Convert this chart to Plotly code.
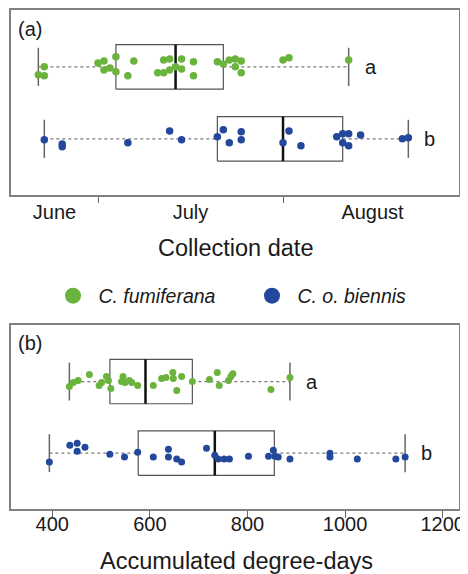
import plotly.graph_objects as go

FONT = "Arial, 'Liberation Sans', sans-serif"
GREEN = "#6ab43e"
BLUE = "#23489b"

species = ["C. fumiferana", "C. o. biennis"]
row_pos = [1, 0]
group_letters_date = ["a", "b"]
group_letters_dd = ["a", "b"]

# Panel (a): collection date (day of year)
fum_date = [172, 173, 173, 182, 183, 183, 184, 185, 185, 187, 188, 192, 193, 193, 194, 194, 195, 196, 196, 198,
            198, 202, 203, 204, 205, 205, 206, 206, 213, 214, 224]
fum_date_jit = [-0.11, 0, -0.125, 0.055, 0.083, -0.042, -0.014, 0.139, -0.069, -0.125, 0.083, -0.083, 0.097, -0.083,
                0.11, -0.042, 0, 0.11, -0.028, 0.07, -0.125, 0.07, 0.04, 0.097, 0.11, 0, 0.083, -0.083, 0.097, 0.125,
                0.097]
bie_date = [173, 176, 176, 187, 194, 196, 202, 203, 204, 206, 206, 213, 214, 216, 222, 223, 223, 224, 224, 226, 233, 234]
bie_date_jit = [-0.014, -0.07, -0.11, -0.055, 0.11, -0.014, 0.028, 0.125, -0.055, 0.097, -0.014, -0.055, 0.11, -0.097,
                0.028, 0.07, -0.055, 0.07, -0.097, 0.055, 0, 0.014]
# box stats: min, q1, median, q3, max
fum_date_box = [172, 185, 195, 203, 224]
bie_date_box = [173, 202, 213, 223, 234]
month_bounds = [182, 213]
month_labels = ["June", "July", "August"]
month_label_pos = [174.7, 197.5, 228.0]

# Panel (b): accumulated degree-days
fum_dd = [435, 443, 453, 476, 496, 501, 511, 515, 520, 542, 545, 549, 558, 563, 575, 607, 624, 633, 647, 648,
          655, 665, 687, 722, 738, 742, 761, 766, 770, 848, 887]
fum_dd_jit = [-0.07, -0.014, 0.014, 0.097, -0.055, -0.014, 0.07, 0.014, -0.097, 0, 0.07, -0.014, 0.014, -0.014,
              -0.055, -0.055, 0.042, 0.055, 0.125, 0.042, -0.125, 0.07, 0, 0.028, 0.125, -0.055, 0.014, 0.07, 0.11,
              -0.11, 0.055]
bie_dd = [394, 436, 451, 451, 467, 518, 548, 575, 607, 638, 638, 655, 665, 716, 733, 740, 752, 763, 802, 843,
          853, 856, 863, 887, 969, 969, 1025, 1104, 1123]
bie_dd_jit = [-0.125, 0.11, 0.14, 0.028, 0.083, -0.014, -0.055, 0.014, -0.055, 0.055, -0.055, -0.083, -0.125, 0.07,
              -0.028, -0.083, -0.083, -0.083, -0.042, -0.042, 0.042, -0.042, -0.055, -0.083, 0, -0.055, -0.083,
              -0.083, -0.055]
fum_dd_box = [435, 518, 591, 687, 887]
bie_dd_box = [394, 576, 733, 855, 1123]
dd_ticks = [400, 600, 800, 1000, 1200]

BOX_H = 0.31
STAPLE_H = 0.265

# page layout helpers (the page body adds an 8px offset)
W, H, OFF = 468, 574, 8


def px_x(px):
    return (px - OFF) / W


def px_y(py):
    return (H - (py - OFF)) / H


fig = go.Figure()


def add_box(stats, yc, xa, ya):
    mn, q1, med, q3, mx = stats
    fig.add_trace(go.Scatter(x=[mn, q1, None, q3, mx], y=[yc, yc, None, yc, yc], mode="lines",
                             line=dict(color="#7a7a7a", width=1.2, dash="dot"), xaxis=xa, yaxis=ya,
                             showlegend=False, hoverinfo="skip"))
    fig.add_trace(go.Scatter(x=[mn, mn, None, mx, mx],
                             y=[yc - STAPLE_H, yc + STAPLE_H, None, yc - STAPLE_H, yc + STAPLE_H], mode="lines",
                             line=dict(color="#666666", width=1.5), xaxis=xa, yaxis=ya,
                             showlegend=False, hoverinfo="skip"))
    fig.add_trace(go.Scatter(x=[q1, q3, q3, q1, q1],
                             y=[yc - BOX_H, yc - BOX_H, yc + BOX_H, yc + BOX_H, yc - BOX_H], mode="lines",
                             line=dict(color="#555555", width=1.2), xaxis=xa, yaxis=ya,
                             showlegend=False, hoverinfo="skip"))
    fig.add_trace(go.Scatter(x=[med, med], y=[yc - BOX_H, yc + BOX_H], mode="lines",
                             line=dict(color="#111111", width=2.5), xaxis=xa, yaxis=ya,
                             showlegend=False, hoverinfo="skip"))


def add_points(xs, jit, yc, color, size, xa, ya):
    fig.add_trace(go.Scatter(x=xs, y=[yc + j for j in jit], mode="markers",
                             marker=dict(color=color, size=size, line=dict(width=0)),
                             xaxis=xa, yaxis=ya, showlegend=False))


add_box(fum_date_box, row_pos[0], "x", "y")
add_box(bie_date_box, row_pos[1], "x", "y")
add_points(fum_date, fum_date_jit, row_pos[0], GREEN, 7.5, "x", "y")
add_points(bie_date, bie_date_jit, row_pos[1], BLUE, 7.5, "x", "y")

add_box(fum_dd_box, row_pos[0], "x2", "y2")
add_box(bie_dd_box, row_pos[1], "x2", "y2")
add_points(fum_dd, fum_dd_jit, row_pos[0], GREEN, 7, "x2", "y2")
add_points(bie_dd, bie_dd_jit, row_pos[1], BLUE, 7, "x2", "y2")

# legend entries
for name, color in zip(species, [GREEN, BLUE]):
    fig.add_trace(go.Scatter(x=[None], y=[None], mode="markers", name="&nbsp;<i>" + name + "</i>",
                             marker=dict(color=color, size=16), xaxis="x", yaxis="y"))

X_DOMAIN = [px_x(11), px_x(459)]
Y_RANGE = [-0.78, 1.79]
frame = dict(showline=True, linecolor="#808080", linewidth=1.5, mirror=True, showgrid=False, zeroline=False,
             automargin=False)

fig.update_layout(
    template="none",
    width=W, height=H, margin=dict(l=0, r=0, t=0, b=0, autoexpand=False),
    paper_bgcolor="white", plot_bgcolor="white",
    font=dict(family=FONT, color="#1a1a1a", size=20),
    xaxis=dict(domain=X_DOMAIN, anchor="y", range=[167.42, 242.49], **frame,
               tickmode="array", tickvals=month_label_pos, ticktext=month_labels, ticks="",
               ticklabelstandoff=-2, tickfont=dict(size=20),
               minor=dict(tickmode="array", tickvals=month_bounds, ticks="outside", ticklen=6,
                          tickwidth=1, tickcolor="#666666")),
    yaxis=dict(domain=[px_y(195), px_y(10)], anchor="x", range=Y_RANGE, **frame,
               showticklabels=False, ticks=""),
    xaxis2=dict(domain=X_DOMAIN, anchor="y2", range=[315.4, 1233.4], **frame,
                tickmode="array", tickvals=dd_ticks, ticks="outside", ticklen=7, tickwidth=1,
                tickcolor="#666666", tickfont=dict(size=20), ticklabelstandoff=-11),
    yaxis2=dict(domain=[px_y(509), px_y(325)], anchor="x2", range=Y_RANGE, **frame,
                showticklabels=False, ticks=""),
    legend=dict(orientation="h", x=px_x(73 - 20 + OFF - OFF) , xanchor="left", y=px_y(296), yanchor="middle",
                font=dict(size=19.5), entrywidth=154, bgcolor="rgba(0,0,0,0)", borderwidth=0,
                itemsizing="trace"),
)

ann = []
ann.append(dict(text="(a)", x=px_x(16), y=px_y(29), xref="paper", yref="paper", xanchor="left",
                yanchor="middle", showarrow=False, font=dict(size=20)))
ann.append(dict(text="(b)", x=px_x(16), y=px_y(343), xref="paper", yref="paper", xanchor="left",
                yanchor="middle", showarrow=False, font=dict(size=20)))
ann.append(dict(text="Collection date", x=px_x(235), y=px_y(248), xref="paper", yref="paper",
                xanchor="center", yanchor="middle", showarrow=False, font=dict(size=23.5)))
ann.append(dict(text="Accumulated degree-days", x=px_x(236), y=px_y(561), xref="paper", yref="paper",
                xanchor="center", yanchor="middle", showarrow=False, font=dict(size=23.5)))
for letter, stats, yc in zip(group_letters_date, [fum_date_box, bie_date_box], row_pos):
    ann.append(dict(text=letter, x=stats[4], y=yc, xref="x", yref="y", xanchor="left", yanchor="middle",
                    xshift=14, showarrow=False, font=dict(size=20)))
for letter, stats, yc in zip(group_letters_dd, [fum_dd_box, bie_dd_box], row_pos):
    ann.append(dict(text=letter, x=stats[4], y=yc, xref="x2", yref="y2", xanchor="left", yanchor="middle",
                    xshift=14, showarrow=False, font=dict(size=20)))
fig.update_layout(annotations=ann)

fig.write_html("out.html")
